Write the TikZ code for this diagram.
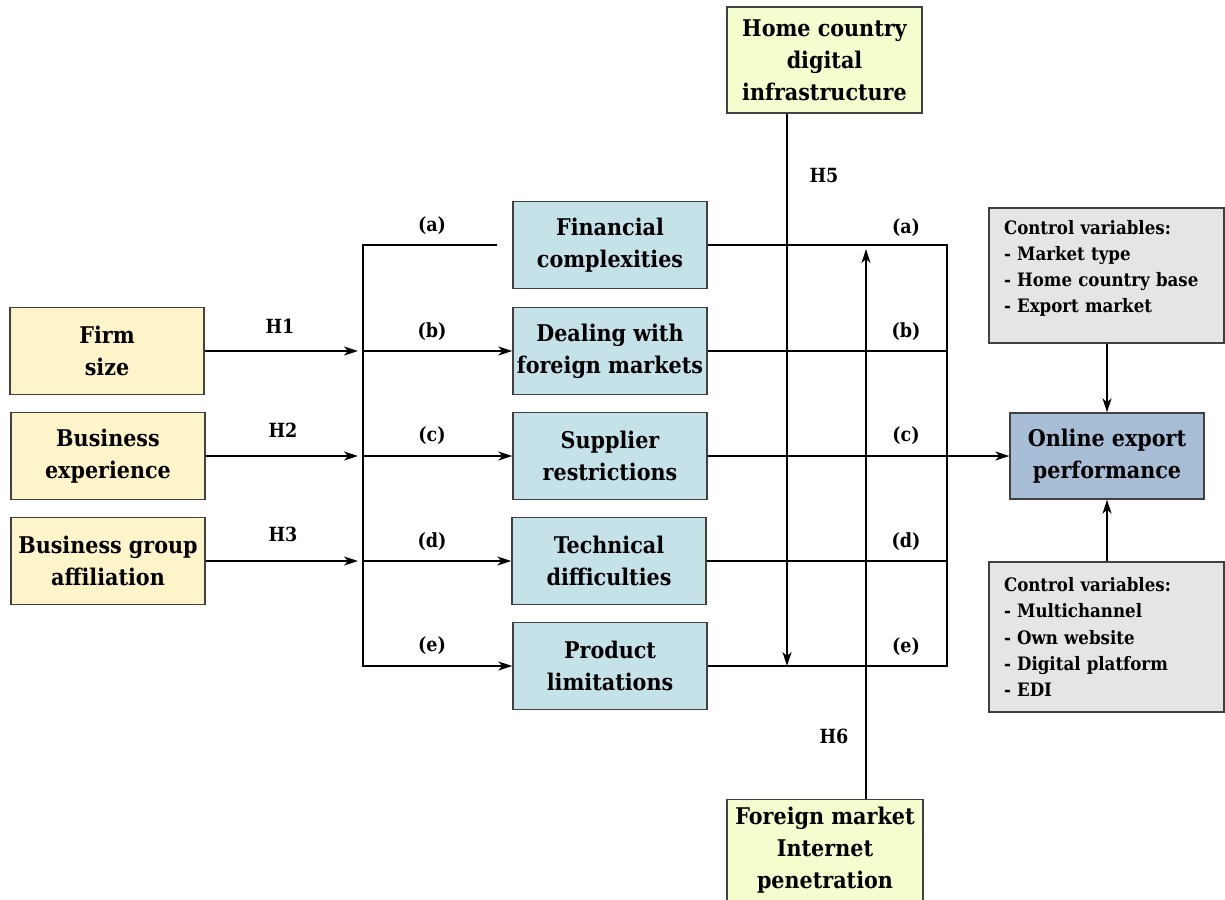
\documentclass[tikz,border=0pt]{standalone}
\usepackage{fontspec}
\setmainfont{DejaVu Serif Condensed}
\usetikzlibrary{arrows.meta}
\definecolor{ylw}{HTML}{FDF5C9}
\definecolor{lblue}{HTML}{C6E2E9}
\definecolor{sblue}{HTML}{A8BED6}
\definecolor{lime}{HTML}{F3FDCD}
\definecolor{ctrl}{HTML}{E5E5E5}
\definecolor{edge}{HTML}{404040}
\tikzset{
  box/.style={draw=edge, line width=1.4pt, inner sep=0pt, align=center,
    minimum width=194pt, minimum height=87pt,
    font=\bfseries\fontsize{23}{32}\selectfont},
  ctrlbox/.style={draw=edge, line width=1.4pt, fill=ctrl, inner xsep=15pt, inner ysep=0pt,
    minimum width=235pt, text width=205pt, align=left,
    font=\bfseries\fontsize{18.5}{26.3}\selectfont},
  conn/.style={line width=1.4pt, black},
  arr/.style={conn, -{Stealth[length=14pt,width=9pt,inset=4pt]}},
  lab/.style={font=\bfseries\fontsize{19.5}{20}\selectfont, inner sep=0pt},
}
\begin{document}
\begin{tikzpicture}[x=1pt,y=-1pt]
\useasboundingbox (0,0) rectangle (1225,899);
% left boxes
\node[box, fill=ylw] (firm) at (107,351) {Firm\\size};
\node[box, fill=ylw] (bexp) at (108,456) {Business\\experience};
\node[box, fill=ylw] (bga) at (108,561) {Business group\\affiliation};
% middle boxes
\node[box, fill=lblue] (fin) at (610,245) {Financial\\complexities};
\node[box, fill=lblue] (deal) at (610,351) {Dealing with\\foreign markets};
\node[box, fill=lblue] (sup) at (610,456) {Supplier\\restrictions};
\node[box, fill=lblue] (tech) at (609,561) {Technical\\difficulties};
\node[box, fill=lblue] (prod) at (610,666) {Product\\limitations};
% moderators
\node[box, fill=lime, minimum width=195pt, minimum height=106pt] (home) at (824.5,60) {Home country\\digital\\infrastructure};
\node[box, fill=lime, minimum width=196pt, minimum height=101pt] (fm) at (825,850) {Foreign market\\Internet\\penetration};
% outcome
\node[box, fill=sblue, minimum width=194pt, minimum height=86pt] (online) at (1107,456) {Online export\\performance};
\node[ctrlbox, minimum height=135pt] (ctop) at (1106.5,275.5) {Control variables:\\- Market type\\- Home country base\\- Export market\rule[-18pt]{0pt}{18pt}};
\node[ctrlbox, minimum height=150pt] (cbot) at (1106.5,637) {Control variables:\\- Multichannel\\- Own website\\- Digital platform\\- EDI};
% junctions
\coordinate (jl2) at (363,351);
\coordinate (jl3) at (363,456);
\coordinate (jl4) at (363,561);
\coordinate (jl5) at (363,666);
\coordinate (jr2) at (947,351);
\coordinate (jr4) at (947,561);
\coordinate (jr5) at (947,666);
\coordinate (h5end) at (787,666);
\coordinate (h6end) at (866,249);
% left inputs
\draw[arr, shorten >=5pt] (firm.east) -- (jl2);
\draw[arr, shorten >=5pt] (bexp.east) -- (jl3);
\draw[arr, shorten >=5pt] (bga.east) -- (jl4);
% left trunk
\draw[arr] ([xshift=-15pt]fin.west) -| (jl5) -- (prod.west);
\draw[arr] (jl2) -- (deal.west);
\draw[arr] (jl3) -- (sup.west);
\draw[arr] (jl4) -- (tech.west);
% right trunk
\draw[conn] (fin.east) -| (jr5) -- (prod.east);
\draw[conn] (deal.east) -- (jr2);
\draw[conn] (tech.east) -- (jr4);
\draw[arr] (sup.east) -- (online.west);
% moderators
\draw[arr] (home.south -| h5end) -- (h5end);
\draw[arr] (fm.north -| h6end) -- (h6end);
% controls
\draw[arr] (ctop.south -| online.north) -- (online.north);
\draw[arr] (cbot.north -| online.south) -- (online.south);
% labels
\node[lab] (lh1) at (280,326) {H1};
\node[lab] (lh2) at (283,430) {H2};
\node[lab] (lh3) at (283,534) {H3};
\node[lab] (lh5) at (824,176) {H5};
\node[lab] (lh6) at (834,736) {H6};
\node[lab] (la1) at (432,226) {(a)};
\node[lab] (lb1) at (432,332) {(b)};
\node[lab] (lc1) at (432,436) {(c)};
\node[lab] (ld1) at (432,542) {(d)};
\node[lab] (le1) at (432,646) {(e)};
\node[lab] (la2) at (906,228) {(a)};
\node[lab] (lb2) at (906,332) {(b)};
\node[lab] (lc2) at (906,436) {(c)};
\node[lab] (ld2) at (906,542) {(d)};
\node[lab] (le2) at (906,647) {(e)};
\end{tikzpicture}
\end{document}
